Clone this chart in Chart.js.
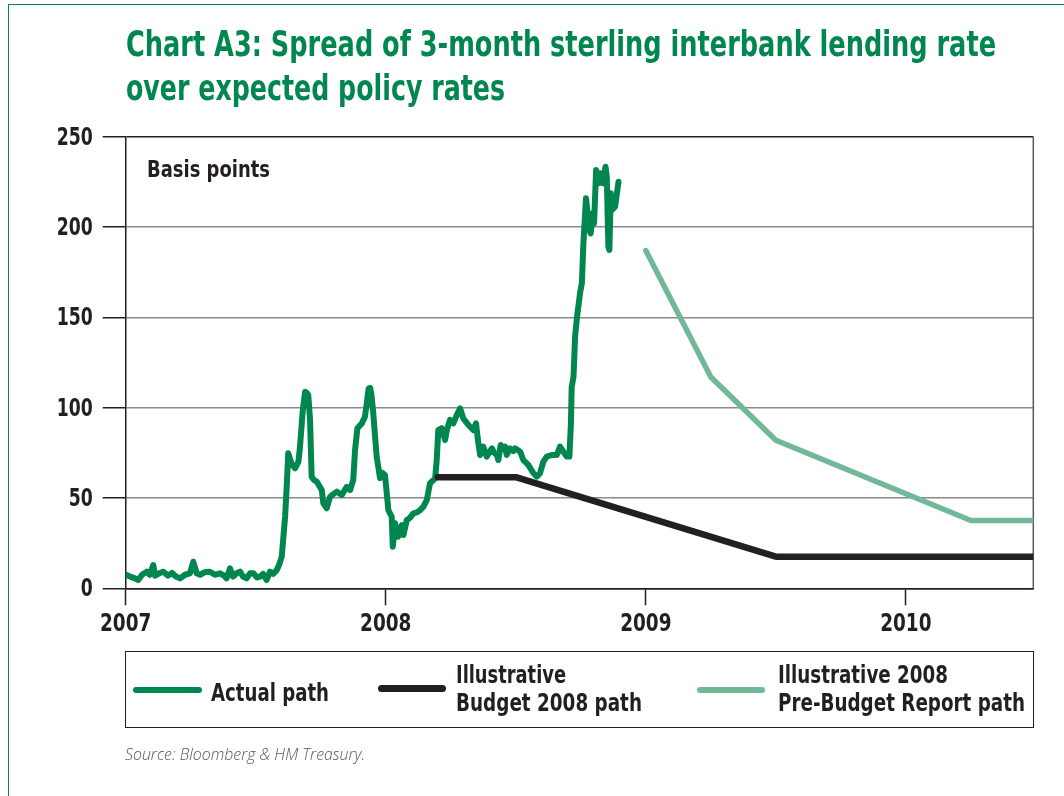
<!DOCTYPE html>
<html><head><meta charset="utf-8">
<script src="https://cdn.jsdelivr.net/npm/chart.js@4.4.0/dist/chart.umd.min.js"></script>
<style>
html,body{margin:0;padding:0;background:#fff;}
body{width:1064px;height:796px;position:relative;overflow:hidden;font-family:'Liberation Sans Narrow','DejaVu Sans Condensed','Open Sans',sans-serif;}
#frame{position:absolute;left:8px;top:4px;width:1200px;height:1000px;border:1.5px solid #00864f;box-sizing:border-box;}
canvas{position:absolute;left:0;top:0;}
.fit{position:absolute;white-space:nowrap;transform-origin:0 0;line-height:1;}
.title{color:#00864f;font-weight:bold;font-size:35px;}
.lbl{color:#231f20;font-weight:bold;font-size:24px;}
.src{color:#555;font-style:italic;font-size:17px;font-family:'Open Sans','Liberation Sans',sans-serif;font-weight:300;}
#legbox{position:absolute;left:125px;top:651px;width:909px;height:77px;border:1.5px solid #231f20;box-sizing:border-box;}
.sw{position:absolute;border-radius:4px;}
</style></head>
<body>
<div id="frame"></div>
<canvas id="c" width="1064" height="796"></canvas>
<div class="fit title" data-w="870" style="left:126px;top:27px;">Chart A3: Spread of 3-month sterling interbank lending rate</div>
<div class="fit title" data-w="379" style="left:126px;top:71px;">over expected policy rates</div>
<div class="fit lbl" data-w="123" style="left:147px;top:158px;font-size:23px;">Basis points</div>
<div id="legbox"></div>
<div class="sw" style="left:133px;top:687px;width:69px;height:6px;background:#00864f;"></div>
<div class="fit lbl" data-w="118" style="left:211px;top:681px;">Actual path</div>
<div class="sw" style="left:378px;top:685px;width:68px;height:7px;background:#231f20;"></div>
<div class="fit lbl" data-w="110" style="left:456px;top:663px;">Illustrative</div>
<div class="fit lbl" data-w="186" style="left:456px;top:691px;">Budget 2008 path</div>
<div class="sw" style="left:697px;top:687px;width:68px;height:6px;background:#70b898;"></div>
<div class="fit lbl" data-w="170" style="left:778px;top:663px;">Illustrative 2008</div>
<div class="fit lbl" data-w="247" style="left:778px;top:691px;">Pre-Budget Report path</div>
<div class="fit src" data-w="240" style="left:125px;top:745px;">Source: Bloomberg &amp; HM Treasury.</div>
<script>
// ---- data (decimal years, basis points) ----
const tickYears = [2007, 2008, 2009, 2010];
const yTicks = [0, 50, 100, 150, 200, 250];

const actualYears = [
2007.001,2007.017,2007.036,2007.048,2007.063,2007.081,2007.093,2007.106,2007.113,2007.132,
2007.145,2007.163,2007.178,2007.193,2007.209,2007.228,2007.247,2007.260,2007.273,2007.286,
2007.305,2007.324,2007.343,2007.363,2007.378,2007.388,2007.401,2007.413,2007.428,2007.440,
2007.451,2007.465,2007.478,2007.491,2007.505,2007.517,2007.528,2007.542,2007.555,2007.567,
2007.581,2007.590,2007.600,2007.613,2007.619,2007.625,2007.638,2007.651,2007.664,2007.670,
2007.681,2007.690,2007.697,2007.702,2007.709,2007.715,2007.724,2007.735,2007.743,2007.754,
2007.760,2007.773,2007.786,2007.797,2007.812,2007.831,2007.850,2007.863,2007.875,2007.882,
2007.891,2007.908,2007.920,2007.927,2007.934,2007.940,2007.945,2007.952,2007.965,2007.978,
2007.986,2007.997,2008.010,2008.023,2008.027,2008.036,2008.042,2008.048,2008.055,2008.062,
2008.068,2008.081,2008.093,2008.106,2008.120,2008.132,2008.145,2008.158,2008.170,2008.190,
2008.196,2008.202,2008.215,2008.228,2008.235,2008.247,2008.260,2008.273,2008.286,2008.298,
2008.318,2008.337,2008.347,2008.356,2008.363,2008.375,2008.388,2008.397,2008.408,2008.417,
2008.427,2008.433,2008.442,2008.451,2008.459,2008.465,2008.478,2008.490,2008.497,2008.517,
2008.529,2008.548,2008.568,2008.581,2008.593,2008.606,2008.619,2008.638,2008.658,2008.670,
2008.683,2008.696,2008.706,2008.712,2008.715,2008.722,2008.728,2008.735,2008.747,2008.754,
2008.760,2008.770,2008.783,2008.788,2008.796,2008.801,2008.809,2008.818,2008.827,2008.835,
2008.845,2008.850,2008.856,2008.860,2008.865,2008.869,2008.882,2008.895
];
const actualValues = [
7.5,6.5,5.5,4.6,7.5,9.2,7.5,12.9,7.0,8.5,
9.2,7.0,8.5,6.5,5.5,7.5,8.3,14.7,8.3,7.5,
9.0,9.2,7.5,8.3,7.0,5.5,11.0,6.5,8.5,9.2,
6.5,5.5,8.3,8.3,6.0,6.5,8.0,4.6,9.2,8.0,
10.1,13.0,17.5,39.6,56.0,74.7,69.0,66.4,70.0,78.0,
98.7,108.8,108.0,107.0,93.0,61.8,60.0,59.0,57.0,54.4,
47.0,44.3,50.7,52.0,53.5,51.6,56.2,54.4,60.0,76.6,
88.6,91.3,95.0,102.4,110.5,111.0,107.0,96.9,72.9,61.0,
64.0,62.7,43.3,39.6,23.0,36.0,31.0,28.6,33.0,35.0,
29.5,37.8,39.0,41.5,42.0,43.3,45.2,48.9,58.1,60.9,
71.0,87.6,88.6,82.1,87.6,93.2,91.3,95.9,99.6,94.1,
90.4,87.6,91.3,80.3,73.8,78.4,72.9,75.0,77.5,75.0,
73.8,71.0,79.3,77.0,78.4,73.8,77.5,76.0,77.5,75.6,
71.0,68.3,63.7,61.8,63.7,70.1,72.9,73.8,73.8,78.4,
75.6,72.9,72.9,91.3,111.6,117.1,139.3,149.5,163.3,168.8,
191.0,215.9,198.4,196.5,207.6,202.0,231.6,224.2,229.7,224.2,
233.4,227.9,189.1,187.3,218.7,209.4,211.3,225.1
];

const budgetYears = [2008.20, 2008.50, 2009.50, 2010.49];
const budgetValues = [61.5, 61.5, 17.5, 17.5];

const pbrYears = [2009.00, 2009.25, 2009.50, 2010.25, 2010.49];
const pbrValues = [187, 117, 82, 37.5, 37.5];

const FONT = "'Liberation Sans Narrow','DejaVu Sans Condensed',sans-serif";
const DARK = '#231f20';

const toXY = (xs, ys) => xs.map((x, i) => ({x: x, y: ys[i]}));

const framePlugin = {
  id: 'frameRight',
  beforeDatasetsDraw(chart) {
    const a = chart.chartArea, c = chart.ctx;
    c.save();
    c.strokeStyle = '#5a5a5a';
    c.lineWidth = 1.5;
    c.beginPath();
    c.moveTo(a.right, a.top);
    c.lineTo(a.right, a.bottom);
    c.stroke();
    c.restore();
  }
};

// tick labels drawn from the scales' own ticks, horizontally condensed
const labelPlugin = {
  id: 'condensedLabels',
  afterDraw(chart) {
    const c = chart.ctx, xs = chart.scales.x, ys = chart.scales.y;
    c.save();
    c.fillStyle = DARK;
    c.font = 'bold 24px ' + FONT;
    c.textBaseline = 'alphabetic';
    c.textAlign = 'right';
    ys.ticks.forEach(t => {
      const y = ys.getPixelForValue(t.value);
      c.save(); c.translate(ys.right - 33, y + 8); c.scale(0.8, 1);
      c.fillText(String(t.value), 0, 0); c.restore();
    });
    c.font = 'bold 25px ' + FONT;
    c.textAlign = 'center';
    xs.ticks.forEach(t => {
      const x = xs.getPixelForValue(t.value);
      c.save(); c.translate(x, xs.top + 43); c.scale(0.82, 1);
      c.fillText(String(t.value), 0, 0); c.restore();
    });
    c.restore();
  }
};

new Chart(document.getElementById('c'), {
  type: 'line',
  data: {
    datasets: [
      {label: 'Illustrative 2008 Pre-Budget Report path', data: toXY(pbrYears, pbrValues), borderColor: '#70b898', borderWidth: 5.5},
      {label: 'Illustrative Budget 2008 path', data: toXY(budgetYears, budgetValues), borderColor: DARK, borderWidth: 6.5},
      {label: 'Actual path', data: toXY(actualYears, actualValues), borderColor: '#00864f', borderWidth: 6}
    ].map(d => Object.assign(d, {pointRadius: 0, tension: 0, fill: false, borderJoinStyle: 'round', borderCapStyle: 'round'}))
  },
  options: {
    responsive: false,
    animation: false,
    layout: {padding: {left: 10, top: 136.7, right: 30.7, bottom: 147.7}},
    plugins: {legend: {display: false}, tooltip: {enabled: false}},
    scales: {
      x: {
        type: 'linear', min: 2007, max: 2010.49,
        afterBuildTicks: s => { s.ticks = tickYears.map(v => ({value: v})); },
        afterFit: s => { s.height = 60; },
        grid: {drawOnChartArea: false, drawTicks: true, tickLength: 17, tickWidth: 1.5, tickColor: DARK},
        border: {display: true, color: DARK, width: 1.5},
        ticks: {display: false}
      },
      y: {
        min: 0, max: 250,
        afterBuildTicks: s => { s.ticks = yTicks.map(v => ({value: v})); },
        afterFit: s => { s.width = 115.7; },
        grid: {color: ctx => (ctx.tick && (ctx.tick.value === 0 || ctx.tick.value === 250)) ? DARK : '#8a8a8a',
               lineWidth: 1.5, tickLength: 23, tickColor: DARK, tickWidth: 1.5},
        border: {display: true, color: DARK, width: 1.5},
        ticks: {display: false}
      }
    }
  },
  plugins: [framePlugin, labelPlugin]
});

function fitTexts() {
  document.querySelectorAll('.fit').forEach(el => {
    el.style.transform = 'none';
    const w = el.getBoundingClientRect().width;
    const t = parseFloat(el.dataset.w);
    if (w > 0 && t > 0) el.style.transform = 'scaleX(' + (t / w) + ')';
  });
}
fitTexts();
if (document.fonts && document.fonts.ready) document.fonts.ready.then(fitTexts);
</script>
</body></html>
